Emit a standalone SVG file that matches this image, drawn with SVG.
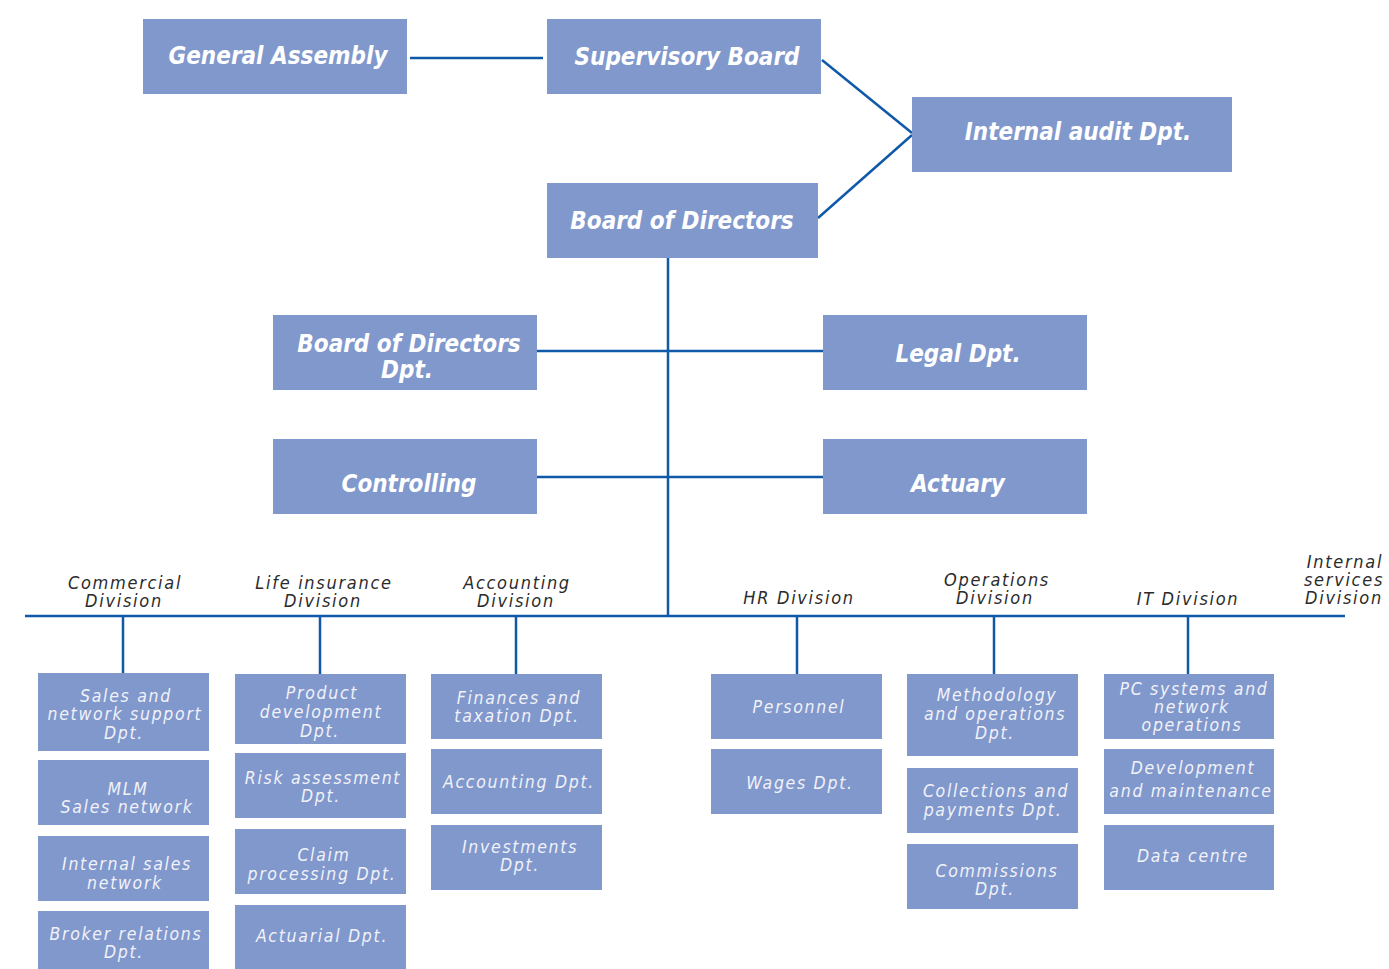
<svg xmlns="http://www.w3.org/2000/svg" width="1389" height="969" viewBox="0 0 1389 969">
<style>
.box{fill:#8198cd}
.h{font-family:"DejaVu Sans Condensed","DejaVu Sans",sans-serif;font-weight:bold;font-style:italic;font-size:24px;fill:#ffffff;text-anchor:middle}
.d{font-family:"DejaVu Sans Condensed","DejaVu Sans",sans-serif;font-style:italic;font-size:18px;letter-spacing:1.7px;fill:#2b2b2b;text-anchor:middle}
.t{font-family:"DejaVu Sans Condensed","DejaVu Sans",sans-serif;font-style:italic;font-size:17.5px;letter-spacing:1.7px;fill:#f1f2f8;text-anchor:middle}
.c{stroke:#1059a8;stroke-width:2.5;fill:none}
</style>
<rect width="1389" height="969" fill="#ffffff"/>
<g id="connectors">
<line class="c" x1="410" y1="58" x2="543" y2="58"/>
<line class="c" x1="822" y1="60" x2="912" y2="133"/>
<line class="c" x1="818" y1="218" x2="912" y2="135"/>
<line class="c" x1="668" y1="258" x2="668" y2="616"/>
<line class="c" x1="537" y1="351" x2="823" y2="351"/>
<line class="c" x1="537" y1="477" x2="823" y2="477"/>
<line class="c" x1="25" y1="616" x2="1345" y2="616"/>
<line class="c" x1="123" y1="616" x2="123" y2="673"/>
<line class="c" x1="320" y1="616" x2="320" y2="674"/>
<line class="c" x1="516" y1="616" x2="516" y2="674"/>
<line class="c" x1="797" y1="616" x2="797" y2="674"/>
<line class="c" x1="994" y1="616" x2="994" y2="674"/>
<line class="c" x1="1188" y1="616" x2="1188" y2="674"/>
</g>
<g id="general-assembly"><rect class="box" x="143" y="19" width="264" height="75"/><text class="h" x="278" y="64">General Assembly</text></g>
<g id="supervisory-board"><rect class="box" x="547" y="19" width="274" height="75"/><text class="h" x="687" y="65">Supervisory Board</text></g>
<g id="internal-audit"><rect class="box" x="912" y="97" width="320" height="75"/><text class="h" x="1078" y="140">Internal audit Dpt.</text></g>
<g id="board-of-directors"><rect class="box" x="547" y="183" width="271" height="75"/><text class="h" x="682" y="229">Board of Directors</text></g>
<g id="bod-dpt"><rect class="box" x="273" y="315" width="264" height="75"/><text class="h" x="409" y="352">Board of Directors</text><text class="h" x="407" y="378">Dpt.</text></g>
<g id="legal"><rect class="box" x="823" y="315" width="264" height="75"/><text class="h" x="958" y="362">Legal Dpt.</text></g>
<g id="controlling"><rect class="box" x="273" y="439" width="264" height="75"/><text class="h" x="409" y="492">Controlling</text></g>
<g id="actuary"><rect class="box" x="823" y="439" width="264" height="75"/><text class="h" x="958" y="492">Actuary</text></g>

<g id="div-commercial"><text class="d" x="125" y="589">Commercial</text><text class="d" x="124" y="607">Division</text></g>
<g id="div-life"><text class="d" x="324" y="589">Life insurance</text><text class="d" x="323" y="607">Division</text></g>
<g id="div-accounting"><text class="d" x="517" y="589">Accounting</text><text class="d" x="516" y="607">Division</text></g>
<g id="div-hr"><text class="d" x="799" y="604">HR Division</text></g>
<g id="div-operations"><text class="d" x="997" y="586">Operations</text><text class="d" x="995" y="604">Division</text></g>
<g id="div-it"><text class="d" x="1188" y="605">IT Division</text></g>
<g id="div-internal"><text class="d" x="1345" y="568">Internal</text><text class="d" x="1344" y="586">services</text><text class="d" x="1344" y="604">Division</text></g>

<g id="sales-support"><rect class="box" x="38" y="673" width="171" height="78"/><text class="t" x="126" y="702">Sales and</text><text class="t" x="125" y="720">network support</text><text class="t" x="124" y="739">Dpt.</text></g>
<g id="mlm"><rect class="box" x="38" y="760" width="171" height="65"/><text class="t" x="128" y="795">MLM</text><text class="t" x="127" y="813">Sales network</text></g>
<g id="internal-sales"><rect class="box" x="38" y="836" width="171" height="65"/><text class="t" x="127" y="870">Internal sales</text><text class="t" x="125" y="889">network</text></g>
<g id="broker"><rect class="box" x="38" y="911" width="171" height="58"/><text class="t" x="126" y="940">Broker relations</text><text class="t" x="124" y="958">Dpt.</text></g>

<g id="product-dev"><rect class="box" x="235" y="674" width="171" height="70"/><text class="t" x="322" y="699">Product</text><text class="t" x="321" y="718">development</text><text class="t" x="320" y="737">Dpt.</text></g>
<g id="risk"><rect class="box" x="235" y="753" width="171" height="65"/><text class="t" x="323" y="784">Risk assessment</text><text class="t" x="321" y="802">Dpt.</text></g>
<g id="claim"><rect class="box" x="235" y="829" width="171" height="65"/><text class="t" x="324" y="861">Claim</text><text class="t" x="322" y="880">processing Dpt.</text></g>
<g id="actuarial"><rect class="box" x="235" y="905" width="171" height="64"/><text class="t" x="322" y="942">Actuarial Dpt.</text></g>

<g id="finances"><rect class="box" x="431" y="674" width="171" height="65"/><text class="t" x="519" y="704">Finances and</text><text class="t" x="517" y="722">taxation Dpt.</text></g>
<g id="accounting-dpt"><rect class="box" x="431" y="749" width="171" height="65"/><text class="t" x="519" y="788">Accounting Dpt.</text></g>
<g id="investments"><rect class="box" x="431" y="825" width="171" height="65"/><text class="t" x="520" y="853">Investments</text><text class="t" x="520" y="871">Dpt.</text></g>

<g id="personnel"><rect class="box" x="711" y="674" width="171" height="65"/><text class="t" x="799" y="713">Personnel</text></g>
<g id="wages"><rect class="box" x="711" y="749" width="171" height="65"/><text class="t" x="800" y="789">Wages Dpt.</text></g>

<g id="methodology"><rect class="box" x="907" y="674" width="171" height="82"/><text class="t" x="997" y="701">Methodology</text><text class="t" x="995" y="720">and operations</text><text class="t" x="995" y="739">Dpt.</text></g>
<g id="collections"><rect class="box" x="907" y="768" width="171" height="65"/><text class="t" x="996" y="797">Collections and</text><text class="t" x="993" y="816">payments Dpt.</text></g>
<g id="commissions"><rect class="box" x="907" y="844" width="171" height="65"/><text class="t" x="997" y="877">Commissions</text><text class="t" x="995" y="895">Dpt.</text></g>

<g id="pc-systems"><rect class="box" x="1104" y="674" width="170" height="65"/><text class="t" x="1194" y="695">PC systems and</text><text class="t" x="1192" y="713">network</text><text class="t" x="1192" y="731">operations</text></g>
<g id="development"><rect class="box" x="1104" y="749" width="170" height="65"/><text class="t" x="1193" y="774">Development</text><text class="t" x="1191" y="797">and maintenance</text></g>
<g id="data-centre"><rect class="box" x="1104" y="825" width="170" height="65"/><text class="t" x="1193" y="862">Data centre</text></g>
</svg>
